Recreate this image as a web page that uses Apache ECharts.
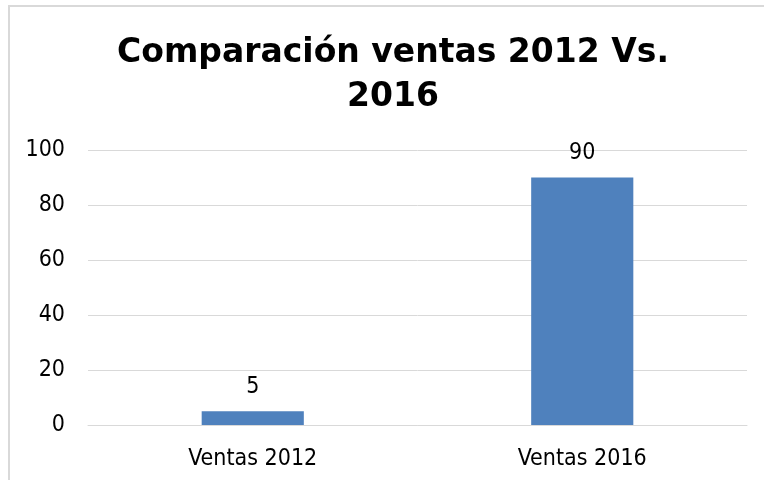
<!DOCTYPE html>
<html><head><meta charset="utf-8">
<script src="https://cdn.jsdelivr.net/npm/echarts@6/dist/echarts.min.js"></script>
<style>
html,body{margin:0;padding:0;background:#fff;}
#frame{position:absolute;left:8px;top:5px;width:760px;height:480px;border:2px solid #d9d9d9;box-sizing:border-box;}
#c{position:absolute;left:0;top:0;width:764px;height:480px;}
</style></head>
<body>
<div id="frame"></div>
<div id="c"></div>
<script>
const categories = ["Ventas 2012", "Ventas 2016"];
const values = [5, 90];
const titleText = "Comparación ventas 2012 Vs.\n2016";

const chart = echarts.init(document.getElementById('c'));
chart.setOption({
  animation: false,
  title: {
    text: titleText,
    left: 393,
    textAlign: 'center',
    top: 31,
    padding: 0,
    textStyle: {fontFamily: 'DejaVu Sans', fontWeight: 'bold', fontSize: 33, lineHeight: 44, color: '#000'}
  },
  grid: {left: 88, right: 17, top: 150, bottom: 55},
  xAxis: {
    type: 'category',
    data: categories,
    axisLine: {lineStyle: {color: '#d9d9d9', width: 1}},
    axisTick: {show: false},
    axisLabel: {fontFamily: 'DejaVu Sans Condensed', fontSize: 23, color: '#000', margin: 23}
  },
  yAxis: {
    type: 'value',
    min: 0, max: 100, interval: 20,
    axisLine: {show: false},
    axisTick: {show: false},
    splitLine: {lineStyle: {color: '#d9d9d9', width: 1}},
    axisLabel: {fontFamily: 'DejaVu Sans Condensed', fontSize: 23, color: '#000', margin: 23}
  },
  series: [{
    type: 'bar',
    data: values,
    barWidth: '31%',
    itemStyle: {color: '#4F81BD'},
    label: {show: true, position: 'top', distance: 13, fontFamily: 'DejaVu Sans Condensed', fontSize: 23, color: '#000'}
  }]
});
</script>
</body></html>
